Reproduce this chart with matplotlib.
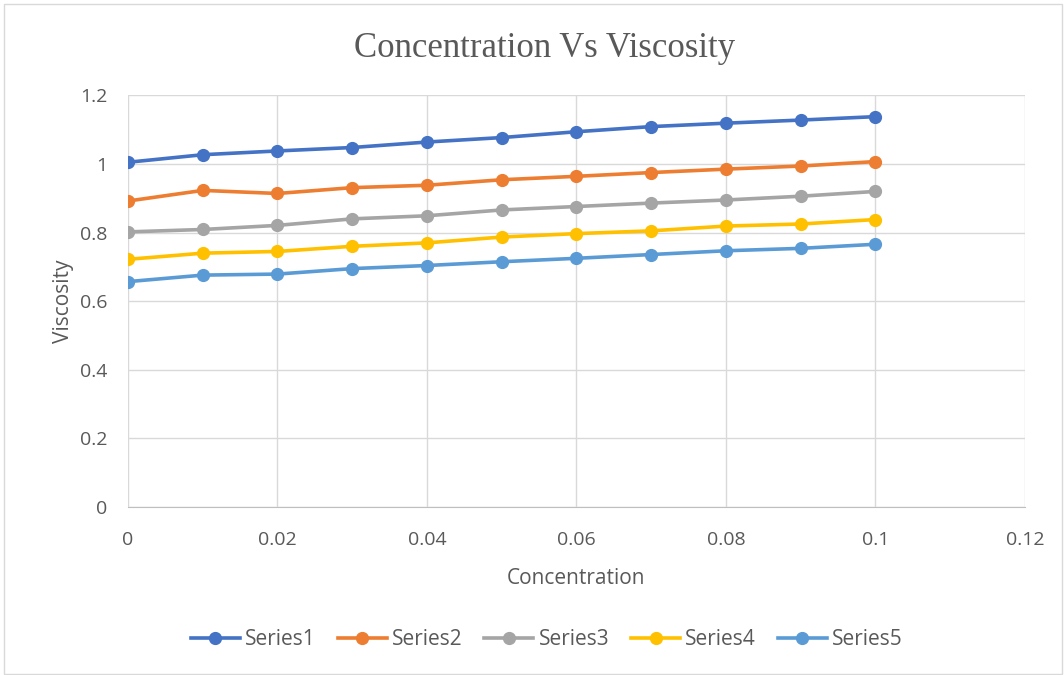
import matplotlib
matplotlib.use("Agg")
import matplotlib.pyplot as plt
from matplotlib.patches import Rectangle

concentration = [0, 0.01, 0.02, 0.03, 0.04, 0.05, 0.06, 0.07, 0.08, 0.09, 0.1]
series1 = [1.005, 1.027, 1.038, 1.048, 1.064, 1.077, 1.094, 1.109, 1.119, 1.128, 1.138]
series2 = [0.892, 0.923, 0.914, 0.931, 0.938, 0.954, 0.964, 0.975, 0.985, 0.994, 1.007]
series3 = [0.802, 0.809, 0.821, 0.840, 0.849, 0.866, 0.876, 0.886, 0.895, 0.906, 0.920]
series4 = [0.722, 0.740, 0.745, 0.760, 0.770, 0.787, 0.797, 0.805, 0.819, 0.825, 0.838]
series5 = [0.657, 0.676, 0.679, 0.695, 0.704, 0.715, 0.725, 0.736, 0.747, 0.754, 0.766]
series_names = ["Series1", "Series2", "Series3", "Series4", "Series5"]
colors = ["#4472C4", "#ED7D31", "#A5A5A5", "#FFC000", "#5B9BD5"]

x_ticks = [0, 0.02, 0.04, 0.06, 0.08, 0.1, 0.12]
x_tick_labels = ["0", "0.02", "0.04", "0.06", "0.08", "0.1", "0.12"]
y_ticks = [0, 0.2, 0.4, 0.6, 0.8, 1.0, 1.2]
y_tick_labels = ["0", "0.2", "0.4", "0.6", "0.8", "1", "1.2"]

plt.rcParams['font.family'] = ['Open Sans', 'DejaVu Sans']

fig = plt.figure(figsize=(10.64, 6.75), dpi=100)
ax = fig.add_axes([0.1203, 0.2489, 0.8430, 0.6098])

# outer chart border
fig.patches.append(Rectangle((0.004, 0.002), 0.994, 0.992, transform=fig.transFigure,
                             fill=False, edgecolor="#D9D9D9", linewidth=1))

for vals, name, c in zip([series1, series2, series3, series4, series5], series_names, colors):
    ax.plot(concentration, vals, color=c, linewidth=2.6, marker="o", markersize=8.5,
            label=name, zorder=3)

ax.set_xlim(0, 0.12)
ax.set_ylim(0, 1.2)
ax.set_xticks(x_ticks)
ax.set_xticklabels(x_tick_labels)
ax.set_yticks(y_ticks)
ax.set_yticklabels(y_tick_labels)
ax.grid(True, color="#D9D9D9", linewidth=1)
ax.set_axisbelow(True)
for s in ["top", "right", "left"]:
    ax.spines[s].set_visible(False)
ax.spines["bottom"].set_color("#BFBFBF")
ax.tick_params(axis="both", length=0, labelsize=14, colors="#595959")
ax.tick_params(axis="x", pad=17)
ax.tick_params(axis="y", pad=15)

ax.set_xlabel("Concentration", fontsize=15, color="#595959", labelpad=14)
ax.set_ylabel("Viscosity", fontsize=15, color="#595959", labelpad=4)

fig.text(0.512, 0.928, "Concentration Vs Viscosity", ha="center", va="center",
         fontsize=25, color="#595959", family="Liberation Serif")

leg = fig.legend(loc="center", bbox_to_anchor=(0.514, 0.052), ncol=5, frameon=False,
                 fontsize=15, handlelength=2.35, columnspacing=1.05, handletextpad=0.25)
for t in leg.get_texts():
    t.set_color("#595959")

fig.savefig("out.png", dpi=100)
